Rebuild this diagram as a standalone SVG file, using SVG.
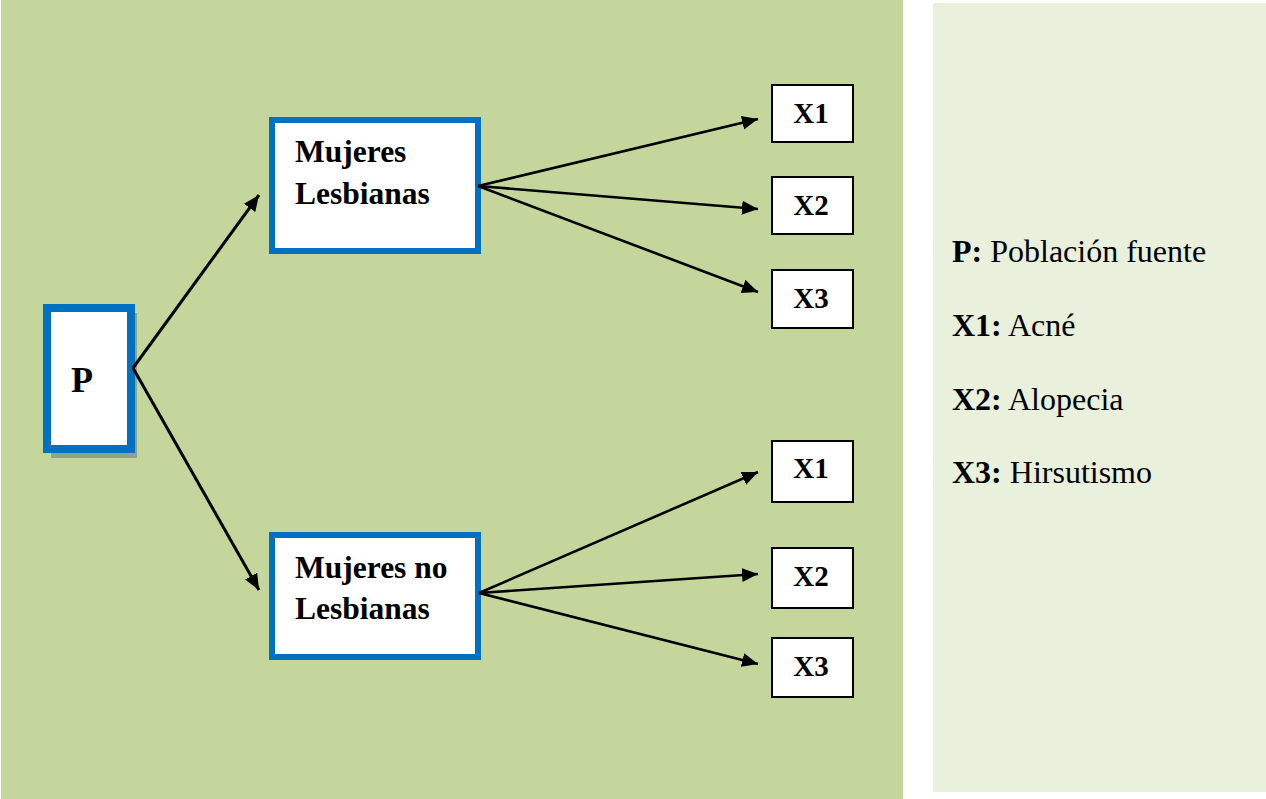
<svg xmlns="http://www.w3.org/2000/svg" width="1266" height="799" viewBox="0 0 1266 799">
<style>
.bold{font-family:"Liberation Serif","Times New Roman",serif;font-weight:bold;fill:#000}
.reg{font-family:"Liberation Serif","Times New Roman",serif;font-weight:normal;fill:#000}
.bluebox{fill:#fff;stroke:#0070c0}
.xbox{fill:#fff;stroke:#000;stroke-width:2}
.conn line{stroke:#000;stroke-width:2.6;marker-end:url(#arr)}
</style>
<defs>
<marker id="arr" markerUnits="userSpaceOnUse" markerWidth="17" markerHeight="15" refX="16" refY="7" orient="auto">
<path d="M0,0 L16,7 L0,14 z" fill="#000"/>
</marker>
</defs>
<rect x="0" y="0" width="1266" height="799" fill="#ffffff"/>
<rect x="1" y="0" width="902" height="799" fill="#c4d69c"/>
<rect x="933" y="3" width="333" height="789" fill="#e9f0dc"/>

<g id="P">
<rect x="51" y="313" width="86" height="145" fill="#8fa386"/>
<rect class="bluebox" x="47" y="308" width="84" height="141" stroke-width="8"/>
<text class="bold" x="82" y="392" font-size="36" text-anchor="middle">P</text>
</g>

<g id="lesbianas">
<rect class="bluebox" x="272" y="120" width="206" height="131" stroke-width="6"/>
<text class="bold" x="295" y="162" font-size="31.5">Mujeres</text>
<text class="bold" x="295" y="204" font-size="31.5">Lesbianas</text>
</g>

<g id="nolesbianas">
<rect class="bluebox" x="272" y="535" width="206" height="122" stroke-width="6"/>
<text class="bold" x="295" y="578" font-size="31.5">Mujeres no</text>
<text class="bold" x="295" y="619" font-size="31.5">Lesbianas</text>
</g>

<g id="x1a"><rect class="xbox" x="772" y="85" width="81" height="57"/><text class="bold" x="811" y="123" font-size="29" text-anchor="middle">X1</text></g>
<g id="x2a"><rect class="xbox" x="772" y="177" width="81" height="57"/><text class="bold" x="811" y="215" font-size="29" text-anchor="middle">X2</text></g>
<g id="x3a"><rect class="xbox" x="772" y="270" width="81" height="58"/><text class="bold" x="811" y="308" font-size="29" text-anchor="middle">X3</text></g>
<g id="x1b"><rect class="xbox" x="772" y="441" width="81" height="61"/><text class="bold" x="811" y="478" font-size="29" text-anchor="middle">X1</text></g>
<g id="x2b"><rect class="xbox" x="772" y="548" width="81" height="60"/><text class="bold" x="811" y="586" font-size="29" text-anchor="middle">X2</text></g>
<g id="x3b"><rect class="xbox" x="772" y="638" width="81" height="59"/><text class="bold" x="811" y="676" font-size="29" text-anchor="middle">X3</text></g>

<g id="connectors" class="conn">
<line x1="133" y1="368" x2="259" y2="195" style="stroke-width:3"/>
<line x1="133" y1="368" x2="259" y2="590" style="stroke-width:3"/>
<line x1="478" y1="186" x2="758" y2="119"/>
<line x1="478" y1="186" x2="758" y2="209"/>
<line x1="478" y1="186" x2="758" y2="292"/>
<line x1="479" y1="593" x2="758" y2="472"/>
<line x1="479" y1="593" x2="758" y2="574"/>
<line x1="479" y1="593" x2="758" y2="664"/>
</g>

<g id="legend">
<text x="952" y="262" font-size="32"><tspan class="bold">P:</tspan><tspan class="reg"> Población fuente</tspan></text>
<text x="952" y="336" font-size="32"><tspan class="bold">X1:</tspan><tspan class="reg"> Acné</tspan></text>
<text x="952" y="410" font-size="32"><tspan class="bold">X2:</tspan><tspan class="reg"> Alopecia</tspan></text>
<text x="952" y="483" font-size="32"><tspan class="bold">X3:</tspan><tspan class="reg"> Hirsutismo</tspan></text>
</g>
</svg>
